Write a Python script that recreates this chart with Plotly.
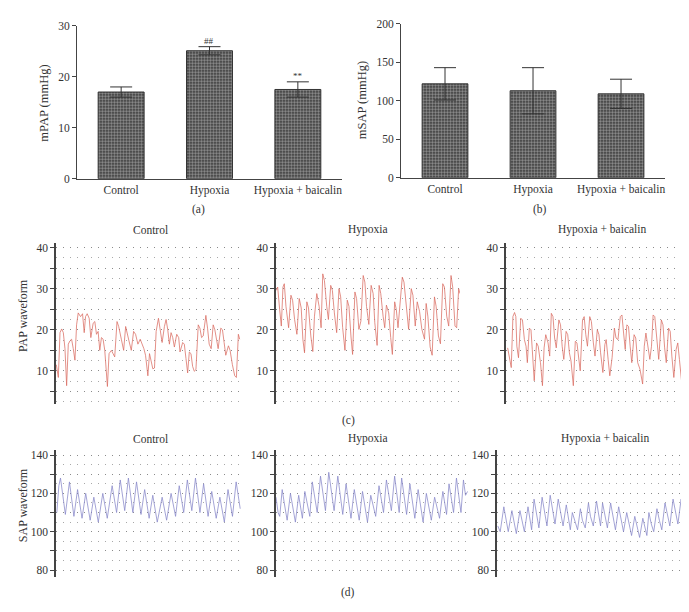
import plotly.graph_objects as go

# ---------------- data ----------------
groups = ["Control", "Hypoxia", "Hypoxia + baicalin"]
mpap_mean = [17.0, 25.1, 17.5]
mpap_err = [1.0, 0.8, 1.5]
mpap_marks = ["", "##", "**"]
msap_mean = [122, 113, 109]
msap_err = [21, 30, 19]

pap_ticks = [5, 10, 15, 20, 25, 30, 35, 40]
pap_ticktext = ["", "10", "", "20", "", "30", "", "40"]
sap_ticks = [80, 90, 100, 110, 120, 130, 140]
sap_ticktext = ["80", "", "100", "", "120", "", "140"]

# PAP waveform, control (sample index, mmHg)
pap_ctrl_t = [9, 15, 20, 25, 30, 35, 40, 45, 50, 55, 60, 65, 70, 75, 82, 88, 93, 97, 102, 108,
              113, 120, 125, 130, 135, 140, 145, 150, 155, 160, 163, 168, 175, 180, 185, 192, 197, 205, 212, 218,
              222, 228, 235, 242, 248, 255, 262, 268, 273, 278, 285, 290, 295, 300, 305, 310, 317, 322, 328, 335,
              340, 345, 350, 355, 360, 365, 372, 378, 382, 390, 395, 400, 405, 410, 415, 420, 425, 430, 437, 442,
              447, 452, 460, 465, 470, 476, 482, 487, 492, 497, 505, 510, 515, 520, 528, 533, 540, 547, 552, 558, 562]
pap_ctrl_v = [11.5, 8.4, 19.3, 20.2, 19.3, 15.4, 6.4, 16.5, 17.3, 17.7,
              15.4, 12.6, 21.2, 24.1, 23.2, 23.9, 19.3, 23.2, 23.9, 22.8,
              18.1, 21.6, 22.0, 18.9, 19.6, 15.0, 18.1, 17.7, 15.0, 10.7,
              6.2, 14.2, 15.0, 14.2, 13.4, 22.0, 20.8, 17.7, 15.0, 20.8,
              19.6, 17.3, 15.0, 19.6, 18.9, 16.5, 17.7, 16.5, 15.4, 13.8,
              8.8, 14.2, 11.9, 10.5, 10.7, 19.6, 22.8, 20.4, 16.9, 20.8,
              22.5, 20.0, 16.5, 19.3, 18.1, 15.8, 18.9, 18.1, 14.6, 16.9,
              16.5, 13.0, 9.5, 14.6, 14.2, 11.1, 9.9, 10.3, 21.2, 20.4,
              18.1, 18.5, 23.5, 20.4, 16.5, 15.4, 21.2, 20.0, 17.7, 15.4,
              20.4, 20.0, 16.9, 13.8, 16.1, 15.0, 11.5, 8.8, 8.4, 18.9, 17.7]

pap_hyp_t = [18, 22, 28, 33, 38, 42, 47, 55, 62, 67, 73, 80, 87, 93, 98, 103, 110, 115, 122, 128,
             133, 140, 147, 153, 158, 163, 170, 175, 182, 187, 193, 200, 207, 212, 218, 225, 232, 237, 243, 248,
             255, 260, 267, 273, 280, 285, 290, 297, 304, 310, 315, 322, 328, 333, 340, 345, 350, 357, 363, 368,
             375, 380, 385, 390, 398, 403, 410, 417, 425, 430, 437, 443, 450, 457, 465, 470, 475, 482, 488, 495,
             500, 507, 513, 520, 525, 532, 538, 545, 550, 557, 562, 568, 572]
pap_hyp_v = [29.6, 30.4, 24.9, 20.9, 30.4, 31.2, 25.7, 20.5, 28.4, 27.2,
             22.5, 18.9, 27.6, 25.3, 17.7, 14.4, 26.8, 25.3, 18.5, 14.7,
             23.3, 28.8, 25.7, 20.5, 33.6, 32.0, 25.7, 22.5, 30.8, 29.6,
             24.1, 19.3, 30.0, 28.0, 20.5, 15.0, 27.2, 25.7, 18.5, 14.0,
             29.2, 27.6, 20.1, 22.1, 33.2, 31.6, 25.7, 21.3, 30.8, 28.8,
             21.7, 16.2, 30.8, 28.8, 23.3, 20.5, 26.0, 24.1, 18.1, 14.0,
             26.8, 24.9, 20.5, 24.9, 32.8, 31.6, 25.7, 20.1, 30.0, 28.4,
             20.9, 26.8, 24.5, 20.1, 17.7, 26.4, 23.3, 15.8, 13.8, 28.0,
             25.7, 18.5, 16.6, 31.2, 30.4, 23.3, 20.9, 33.2, 30.4, 20.9,
             20.5, 30.0, 28.8]

pap_hb_t = [22, 28, 33, 38, 43, 47, 50, 55, 62, 67, 73, 78, 82, 88, 93, 97, 103, 110, 115, 122,
            128, 133, 138, 145, 150, 155, 160, 165, 170, 178, 183, 188, 193, 200, 205, 210, 215, 222, 228, 233,
            238, 243, 250, 255, 260, 265, 272, 277, 283, 288, 295, 300, 305, 312, 318, 322, 328, 333, 340, 347,
            352, 358, 365, 370, 375, 380, 385, 390, 395, 400, 407, 412, 418, 425, 433, 438, 443, 448, 455, 460,
            465, 470, 475, 482, 490, 495, 500, 505, 512, 517, 522, 528, 535, 540, 545, 552, 558, 562]
pap_hb_v = [15.6, 12.8, 10.8, 23.2, 24.2, 23.2, 16.0, 13.2, 22.8, 22.4,
            17.6, 16.0, 12.0, 20.4, 20.0, 15.2, 7.6, 16.8, 16.0, 12.0,
            6.4, 15.6, 18.8, 16.8, 13.6, 24.0, 23.2, 18.0, 15.6, 22.4,
            21.2, 16.0, 12.8, 19.6, 18.8, 14.4, 12.4, 6.4, 17.2, 16.8,
            12.8, 10.0, 22.4, 23.2, 18.8, 16.0, 23.2, 22.0, 16.8, 13.6,
            20.0, 18.8, 14.4, 9.6, 16.4, 17.6, 12.8, 8.8, 13.2, 20.4,
            18.0, 17.6, 23.2, 23.6, 19.2, 15.2, 21.2, 20.8, 16.0, 12.0,
            18.8, 18.0, 12.0, 10.4, 6.8, 16.0, 19.2, 16.8, 12.8, 16.0,
            23.6, 23.2, 18.4, 12.8, 22.4, 21.2, 15.6, 12.0, 20.4, 19.6,
            13.6, 8.4, 15.2, 16.8, 12.8, 7.2, 16.8, 18.8]

sap_ctrl_t = [9, 14, 18, 24, 30, 40, 45, 51, 60, 65, 71, 80, 85, 91, 100, 105, 111, 122, 127, 133,
              145, 150, 156, 165, 170, 176, 185, 190, 196, 205, 210, 216, 225, 230, 236, 245, 250, 256,
              268, 273, 279, 290, 295, 301, 310, 315, 321, 330, 335, 341, 350, 355, 361, 370, 375, 381,
              390, 395, 401, 410, 415, 421, 430, 435, 441, 450, 455, 460]
sap_ctrl_v = [110, 124, 128, 118, 109, 126, 118, 108, 122, 115, 107, 120, 113, 106, 118, 112, 105, 120, 114, 107,
              124, 117, 110, 127, 119, 111, 128, 120, 110, 126, 118, 109, 122, 115, 107, 119, 113, 105,
              118, 112, 106, 120, 114, 108, 124, 117, 110, 127, 119, 111, 128, 120, 110, 125, 118, 108,
              121, 114, 107, 118, 112, 105, 122, 115, 108, 126, 118, 112]

sap_hyp_t = [540, 545, 549, 555, 560, 567, 575, 580, 587, 595, 600, 604, 610, 616, 622, 628, 634, 640,
             648, 654, 660, 668, 674, 681, 690, 696, 702, 710, 716, 722, 730, 736, 742, 750, 756, 762,
             770, 776, 782, 790, 796, 801, 808, 814, 820, 828, 834, 839, 845, 851, 857, 865, 871, 877,
             885, 891, 897, 905, 911, 917, 925, 931, 937, 945, 950, 954, 960, 966, 971, 978, 984, 989,
             995, 1000, 1005]
sap_hyp_v = [118, 110, 108, 122, 115, 106, 120, 113, 105, 119, 112, 107, 121, 114, 108, 126, 118, 110,
             129, 120, 111, 131, 121, 111, 129, 120, 109, 125, 117, 107, 122, 114, 106, 121, 113, 105,
             119, 113, 108, 124, 116, 110, 127, 119, 111, 129, 120, 110, 128, 119, 109, 125, 117, 107,
             122, 114, 105, 120, 113, 106, 118, 112, 107, 121, 114, 109, 125, 117, 110, 128, 119, 110,
             127, 119, 121]

sap_hb_t = [1080, 1086, 1095, 1100, 1106, 1115, 1120, 1126, 1135, 1140, 1146, 1155, 1160, 1164,
            1170, 1176, 1182, 1190, 1196, 1202, 1210, 1216, 1222, 1230, 1236, 1242, 1250, 1255, 1260,
            1265, 1272, 1278, 1285, 1290, 1297, 1305, 1310, 1317, 1325, 1330, 1335, 1340, 1346, 1352,
            1360, 1366, 1372, 1380, 1386, 1392, 1400, 1406, 1412, 1420, 1426, 1432, 1440, 1446, 1450,
            1455, 1461, 1467, 1475, 1481, 1487, 1495, 1501, 1507, 1515, 1521, 1527, 1535, 1541, 1545, 1550]
sap_hb_v = [103, 100, 113, 106, 100, 111, 105, 99, 111, 105, 100, 113, 106, 101,
            117, 109, 102, 118, 110, 103, 119, 111, 104, 117, 109, 103, 114, 107, 101,
            110, 105, 101, 112, 106, 102, 115, 108, 103, 116, 109, 103, 115, 108, 102,
            115, 108, 101, 113, 106, 100, 110, 104, 98, 108, 102, 97, 107, 101, 98,
            110, 104, 100, 112, 106, 101, 115, 108, 103, 117, 110, 104, 117, 110, 105, 110]

# ---------------- styling ----------------
FONT = "Liberation Serif"
AX = "#444444"
PAP_COLOR = "#d96b60"
SAP_COLOR = "#8585c8"
GRIDC = "#8a8a8a"

fig = go.Figure()

bar_marker = dict(
    color="#2e2e2e",
    line=dict(color="#333333", width=1),
    pattern=dict(shape=".", fgcolor="#f0f0f0", bgcolor="#2e2e2e", size=3, solidity=0.6),
)

# panel (a)
fig.add_trace(go.Bar(x=groups, y=mpap_mean, width=0.52, marker=bar_marker,
                     error_y=dict(type="data", array=mpap_err, color="#333", thickness=1, width=11),
                     xaxis="x", yaxis="y", showlegend=False))
# panel (b)
fig.add_trace(go.Bar(x=groups, y=msap_mean, width=0.52, marker=bar_marker,
                     error_y=dict(type="data", array=msap_err, color="#333", thickness=1, width=11),
                     xaxis="x2", yaxis="y2", showlegend=False))

waves = [
    (pap_ctrl_t, pap_ctrl_v, PAP_COLOR, "x3", "y3"),
    (pap_hyp_t, pap_hyp_v, PAP_COLOR, "x4", "y4"),
    (pap_hb_t, pap_hb_v, PAP_COLOR, "x5", "y5"),
    (sap_ctrl_t, sap_ctrl_v, SAP_COLOR, "x6", "y6"),
    (sap_hyp_t, sap_hyp_v, SAP_COLOR, "x7", "y7"),
    (sap_hb_t, sap_hb_v, SAP_COLOR, "x8", "y8"),
]
for t, v, c, xa, ya in waves:
    fig.add_trace(go.Scatter(x=t, y=v, mode="lines", line=dict(color=c, width=0.75),
                             xaxis=xa, yaxis=ya, showlegend=False))

tickfont = dict(family=FONT, size=11.5, color="#333")

def bar_axes(n, xdom, ydom, yrange, dtick):
    s = "" if n == 1 else str(n)
    return {
        f"xaxis{s}": dict(domain=xdom, anchor=f"y{s}", type="category",
                          range=[-0.5, 2.5], showline=True, linecolor=AX, linewidth=1, ticks="",
                          tickfont=tickfont, showgrid=False, zeroline=False),
        f"yaxis{s}": dict(domain=ydom, anchor=f"x{s}", range=yrange, dtick=dtick, showline=True,
                          linecolor=AX, linewidth=1, ticks="outside", ticklen=4, tickcolor=AX,
                          tickfont=tickfont, showgrid=False, zeroline=False),
    }

layout_axes = {}
layout_axes.update(bar_axes(1, [0.1001, 0.4848], [0.7255, 0.9804], [0, 30], 10))
layout_axes.update(bar_axes(2, [0.5704, 0.9536], [0.7271, 0.9837], [0, 200], 50))

def wave_axes(n, xdom, ydom, xrange, yrange, tickvals, ticktext, minor_dtick):
    return {
        f"xaxis{n}": dict(domain=xdom, anchor=f"y{n}", range=xrange, visible=False),
        f"yaxis{n}": dict(domain=ydom, anchor=f"x{n}", range=yrange, tickvals=tickvals,
                          ticktext=ticktext, ticks="outside", ticklen=4, tickcolor=AX,
                          showline=True, linecolor=AX, linewidth=1.5, tickfont=tickfont,
                          zeroline=False, showgrid=True, gridcolor=GRIDC, gridwidth=1,
                          griddash="1px,6px",
                          minor=dict(tick0=0, dtick=minor_dtick, showgrid=True, gridcolor="#a8a8a8",
                                     gridwidth=1, griddash="1px,6px", ticks="")),
    }

pap_y = [0.3497, 0.6176]
sap_y = [0.0621, 0.2729]
layout_axes.update(wave_axes(3, [0.0697, 0.3382], pap_y, [8, 566], [1.9, 41], pap_ticks, pap_ticktext, 2.5))
layout_axes.update(wave_axes(4, [0.3890, 0.6560], pap_y, [17, 572], [1.9, 41], pap_ticks, pap_ticktext, 2.5))
layout_axes.update(wave_axes(5, [0.7228, 0.9840], pap_y, [17, 565], [1.9, 41], pap_ticks, pap_ticktext, 2.5))
layout_axes.update(wave_axes(6, [0.0697, 0.3382], sap_y, [7, 462], [76.5, 142.5], sap_ticks, sap_ticktext, 5))
layout_axes.update(wave_axes(7, [0.3890, 0.6676], sap_y, [540, 1006], [76.5, 142.5], sap_ticks, sap_ticktext, 5))
layout_axes.update(wave_axes(8, [0.7097, 0.9869], sap_y, [1078, 1552], [76.5, 142.5], sap_ticks, sap_ticktext, 5))

annotations = []
def label(text, x, y, size=11.5, angle=0):
    annotations.append(dict(text=text, x=x, y=y, xref="paper", yref="paper", showarrow=False,
                            xanchor="center", yanchor="middle", textangle=angle,
                            font=dict(family=FONT, size=size, color="#333")))

# significance marks on panel (a)
for g, m, e, s in zip(groups, mpap_mean, mpap_err, mpap_marks):
    if s:
        annotations.append(dict(text=s, x=g, y=m + e, xref="x", yref="y", showarrow=False,
                                yanchor="bottom", yshift=-1,
                                font=dict(family=FONT, size=9, color="#333")))

label("mPAP (mmHg)", 0.052, 0.852, size=12.5, angle=-90)
label("mSAP (mmHg)", 0.515, 0.856, size=12.5, angle=-90)
label("(a)", 0.2758, 0.6748)
label("(b)", 0.7721, 0.6748)
label("(c)", 0.4935, 0.3219)
label("(d)", 0.4935, 0.0359)
label("PAP waveform", 0.0218, 0.4967, size=12, angle=-90)
label("SAP waveform", 0.0218, 0.1814, size=12, angle=-90)
for x, txt in [(0.2075, "Control"), (0.5225, "Hypoxia"), (0.862, "Hypoxia + baicalin")]:
    label(txt, x, 0.6405)
for x, txt in [(0.2075, "Control"), (0.5225, "Hypoxia"), (0.866, "Hypoxia + baicalin")]:
    label(txt, x, 0.2925)

fig.update_layout(
    width=689, height=612,
    margin=dict(l=0, r=0, t=0, b=0),
    paper_bgcolor="white", plot_bgcolor="white",
    font=dict(family=FONT, size=11.5, color="#333"),
    annotations=annotations,
    **layout_axes,
)

fig.write_html("out.html")
